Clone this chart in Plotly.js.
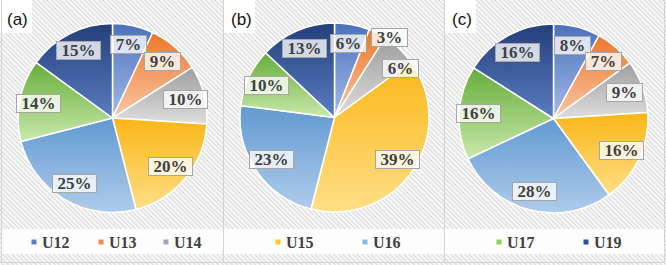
<!DOCTYPE html>
<html>
<head>
<meta charset="utf-8">
<script src="https://cdn.plot.ly/plotly-3.0.1.min.js"></script>
<style>
  html, body { margin: 0; padding: 0; background: #ffffff; }
  #chart {
    width: 666px; height: 265px;
    background: repeating-linear-gradient(45deg, #f7f7f7 0px, #f7f7f7 2px, #e2e2e2 2px, #e2e2e2 3.3px);
  }
</style>
</head>
<body>
<div id="chart"></div>
<script>
// Shares of each unit group, one pie per panel
const categories = ['U12', 'U13', 'U14', 'U15', 'U16', 'U17', 'U19'];
const panelTags  = ['(a)', '(b)', '(c)'];
const valuesA = [7, 9, 10, 20, 25, 14, 15];
const valuesB = [6, 3, 6, 39, 23, 10, 13];
const valuesC = [8, 7, 9, 16, 28, 16, 16];
const legendRows = [['U12', 'U13', 'U14'], ['U15', 'U16'], ['U17', 'U19']];

// ---- styling / geometry (pixels) ----
const W = 666, H = 265;
const pieCenters = [[112.5, 118], [334.5, 117.5], [553.5, 118.5]];
const pieRadius = 94.5;
const labelRadius = 0.8;
// per-label polar nudges: [extra angle in degrees, radius factor]
const labelNudge = { 1: { U13: [7.5, 1.28], U14: [10, 1.085] } };

const gradTop = {
  U12: '#4b70bd', U13: '#ed7628', U14: '#9e9e9e', U15: '#fab618',
  U16: '#6199d1', U17: '#66ad3a', U19: '#243f7a'
};
const gradBottom = {
  U12: '#a3bbe6', U13: '#fac8a6', U14: '#dedede', U15: '#ffdf86',
  U16: '#afcceb', U17: '#c9e9aa', U19: '#5a7dc2'
};
const legendColor = {
  U12: '#5a7dc5', U13: '#f08a4b', U14: '#a8a8a8', U15: '#ffc629',
  U16: '#8db8e2', U17: '#8ccf5a', U19: '#2f4f8f'
};
const legendMarkerX = { U12: 34, U13: 101, U14: 166, U15: 278, U16: 365, U17: 499, U19: 586 };
const legendY = 242;

const px2x = px => px / W;
const px2y = py => 1 - py / H;

const serif = '"Liberation Serif", "Times New Roman", serif';
const sans = '"Liberation Sans", Arial, sans-serif';
const labelSize = 17;

const measureCtx = document.createElement('canvas').getContext('2d');
measureCtx.font = 'bold ' + labelSize + 'px "Liberation Serif"';

const allValues = [valuesA, valuesB, valuesC];

const traces = allValues.map((vals, k) => {
  const [cx, cy] = pieCenters[k];
  return {
    type: 'pie',
    labels: categories,
    values: vals,
    sort: false,
    direction: 'clockwise',
    rotation: 0,
    textinfo: 'none',
    hoverinfo: 'none',
    showlegend: false,
    marker: {
      colors: categories.map(c => legendColor[c]),
      line: { color: '#ffffff', width: 1.5 }
    },
    domain: {
      x: [px2x(cx - pieRadius), px2x(cx + pieRadius)],
      y: [px2y(cy + pieRadius), px2y(cy - pieRadius)]
    }
  };
});

const annotations = [];
const shapes = [];

// percentage labels, placed at each slice's mid angle
allValues.forEach((vals, k) => {
  const total = vals.reduce((a, b) => a + b, 0);
  const [cx, cy] = pieCenters[k];
  let cum = 0;
  vals.forEach((v, i) => {
    const cat = categories[i];
    let ang = (cum + v / 2) / total * 360;
    let rf = labelRadius;
    const n = labelNudge[k] && labelNudge[k][cat];
    if (n) { ang += n[0]; rf *= n[1]; }
    cum += v;
    const t = ang * Math.PI / 180;
    const r = pieRadius * rf;
    const text = Math.round(v / total * 100) + '%';
    const tw = measureCtx.measureText(text).width;
    annotations.push({
      xref: 'paper', yref: 'paper',
      x: px2x(cx + r * Math.sin(t)), y: px2y(cy - r * Math.cos(t)),
      xanchor: 'center', yanchor: 'middle',
      text: text, showarrow: false,
      font: { family: serif, size: labelSize, color: '#404040', weight: 700 },
      bgcolor: 'rgba(255,255,255,0.78)',
      bordercolor: '#a6a6a6', borderwidth: 1, borderpad: 1,
      width: Math.round(tw + 7), height: 15
    });
  });
});

// panel frames
const frameColor = '#d3d3d3';
const tagBoxes = [[0, 32], [224, 255], [445, 476]];
tagBoxes.forEach(([x0, x1], k) => {
  shapes.push({
    type: 'rect', xref: 'paper', yref: 'paper', layer: 'below',
    x0: px2x(x0), x1: px2x(x1), y0: px2y(33), y1: px2y(0),
    fillcolor: '#ffffff', line: { width: 0 }
  });
  annotations.push({
    xref: 'paper', yref: 'paper',
    x: px2x(x0 + 5), y: px2y(20),
    xanchor: 'left', yanchor: 'middle', showarrow: false,
    text: panelTags[k],
    font: { family: sans, size: 17, color: '#111111' }
  });
});

// legend band
shapes.push({
  type: 'rect', xref: 'paper', yref: 'paper', layer: 'below',
  x0: px2x(2), x1: px2x(664), y0: px2y(254), y1: px2y(229),
  fillcolor: '#fdfdfd', line: { width: 0 }
});

[1.5, 223.5, 444.5, 664.5].forEach(x => {
  shapes.push({
    type: 'line', xref: 'paper', yref: 'paper', layer: 'below',
    x0: px2x(x), x1: px2x(x), y0: px2y(262.5), y1: px2y(0),
    line: { color: frameColor, width: 1 }
  });
});
shapes.push({
  type: 'line', xref: 'paper', yref: 'paper', layer: 'below',
  x0: px2x(1.5), x1: px2x(664.5), y0: px2y(262.5), y1: px2y(262.5),
  line: { color: frameColor, width: 1 }
});

// legend entries
legendRows.flat().forEach(cat => {
  const mx = legendMarkerX[cat];
  shapes.push({
    type: 'rect', xref: 'paper', yref: 'paper',
    x0: px2x(mx - 2.5), x1: px2x(mx + 2.5),
    y0: px2y(legendY + 2.5), y1: px2y(legendY - 2.5),
    fillcolor: legendColor[cat], line: { width: 0 }
  });
  annotations.push({
    xref: 'paper', yref: 'paper',
    x: px2x(mx + 6), y: px2y(legendY),
    xanchor: 'left', yanchor: 'middle', showarrow: false,
    text: cat,
    font: { family: serif, size: 16, color: '#404040', weight: 700 }
  });
});

const layout = {
  width: W, height: H,
  margin: { l: 0, r: 0, t: 0, b: 0, pad: 0 },
  paper_bgcolor: 'rgba(0,0,0,0)',
  plot_bgcolor: 'rgba(0,0,0,0)',
  showlegend: false,
  shapes: shapes,
  annotations: annotations
};

const gd = document.getElementById('chart');
Plotly.newPlot(gd, traces, layout, { staticPlot: true, displayModeBar: false }).then(() => {
  // vertical gradient fill for each slice
  const NS = 'http://www.w3.org/2000/svg';
  const svg = gd.querySelector('svg.main-svg');
  let defs = svg.querySelector('defs');
  if (!defs) { defs = document.createElementNS(NS, 'defs'); svg.insertBefore(defs, svg.firstChild); }
  categories.forEach(cat => {
    const g = document.createElementNS(NS, 'linearGradient');
    g.setAttribute('id', 'slice-fill-' + cat);
    g.setAttribute('x1', '0'); g.setAttribute('y1', '0');
    g.setAttribute('x2', '0'); g.setAttribute('y2', '1');
    [[0, gradTop[cat]], [1, gradBottom[cat]]].forEach(([o, col]) => {
      const s = document.createElementNS(NS, 'stop');
      s.setAttribute('offset', String(o));
      s.setAttribute('stop-color', col);
      g.appendChild(s);
    });
    defs.appendChild(g);
  });
  gd.querySelectorAll('g.slice path.surface').forEach(p => {
    const pt = p.__data__;
    const cat = pt ? (pt.label !== undefined ? pt.label : categories[pt.i]) : null;
    if (cat && gradTop[cat]) p.style.fill = 'url(#slice-fill-' + cat + ')';
  });
});
</script>
</body>
</html>
